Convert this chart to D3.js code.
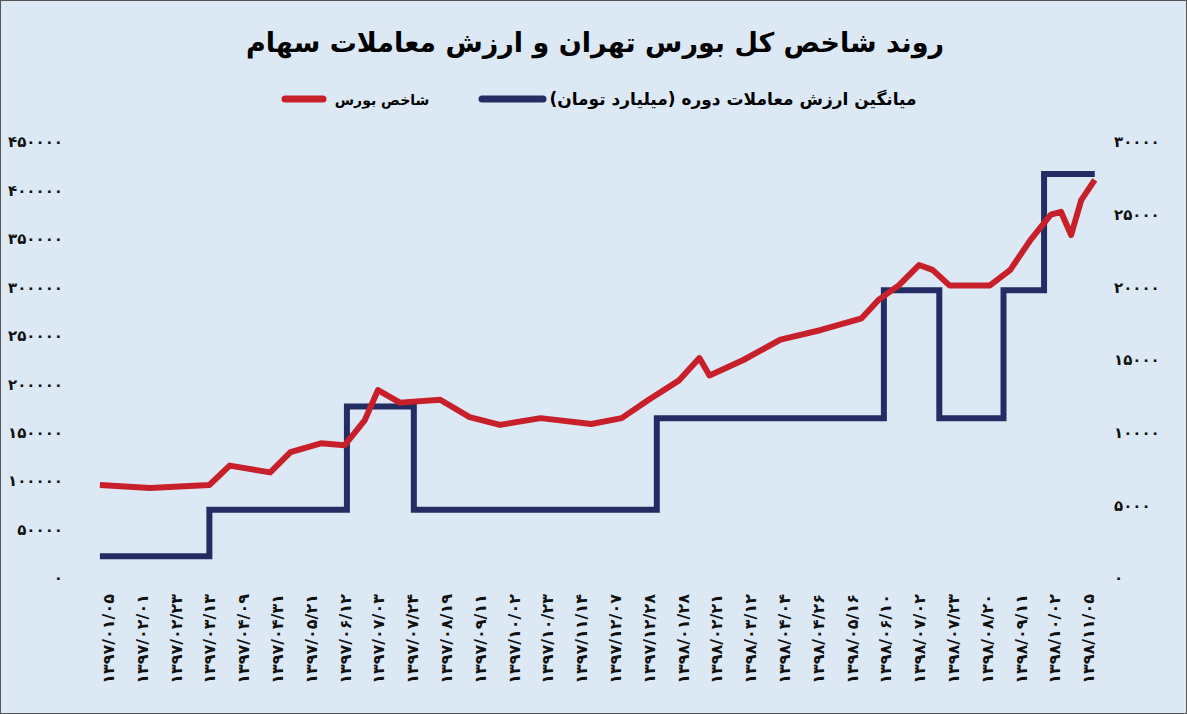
<!DOCTYPE html>
<html><head><meta charset="utf-8">
<script src="https://cdn.jsdelivr.net/npm/d3@7"></script>
<style>body{margin:0;background:#fff}</style></head>
<body><svg id="c" width="1187" height="714"></svg>
<script>
const dates = ['1397/01/05','1397/02/01','1397/02/23','1397/03/13','1397/04/09','1397/04/31','1397/05/21','1397/06/12','1397/07/03','1397/07/24','1397/08/19','1397/09/11','1397/10/02','1397/10/23','1397/11/14','1397/12/07','1397/12/28','1398/01/28','1398/02/21','1398/03/12','1398/04/04','1398/04/26','1398/05/16','1398/06/10','1398/07/02','1398/07/23','1398/08/20','1398/09/11','1398/10/02','1398/11/05'];
// index series (position in category units)
const indexPos = [-0.24,1.24,3.0,3.6,4.8,5.4,6.3,7.0,7.6,7.99,8.64,9.83,10.7,11.6,12.8,14.3,15.2,16.0,16.9,17.5,17.8,18.8,19.9,21.1,22.3,22.8,23.4,24.0,24.4,24.9,26.1,26.7,27.3,27.9,28.2,28.5,28.8,29.2];
const indexVal = [96000,93000,96000,116000,109000,130000,139000,137000,163000,194000,181000,184000,166000,158000,165000,159000,165000,184000,204000,227000,209000,225000,246000,256000,268000,287000,302000,323000,318000,302000,302000,318000,349000,375000,378000,354000,390000,411000];
// average trading value (billion toman), step segments
const stepStart = [-0.24,3.0,7.07,9.05,16.24,22.96,24.6,26.5,27.7];
const stepEnd   = [3.0,7.07,9.05,16.24,22.96,24.6,26.5,27.7,29.2];
const stepVal   = [1500,4700,11800,4700,11000,19800,11000,19800,27800];
const leftTicks = [0,50000,100000,150000,200000,250000,300000,350000,400000,450000];
const rightTicks = [0,5000,10000,15000,20000,25000,30000];

const fa = s => String(s).replace(/\d/g, d => '۰۱۲۳۴۵۶۷۸۹'[d]);
const svg = d3.select('#c');
svg.append('rect').attr('x',0.5).attr('y',0.5).attr('width',1186).attr('height',713)
  .attr('fill','#dce9f5').attr('stroke','#555');

const x = d3.scaleLinear().domain([0, dates.length-1]).range([108, 1088]);
const yL = d3.scaleLinear().domain([0,450000]).range([578,142]);
const yR = d3.scaleLinear().domain([0,30000]).range([578,142]);

svg.append('text').attr('x',595).attr('y',52).attr('text-anchor','middle')
  .attr('font-family','DejaVu Sans').attr('font-weight','bold').attr('font-size',27)
  .text('روند شاخص کل بورس تهران و ارزش معاملات سهام');

// legend
const lg = svg.append('g').attr('font-family','DejaVu Sans').attr('font-weight','bold').attr('font-size',17);
lg.append('line').attr('x1',285).attr('x2',323).attr('y1',99).attr('y2',99).attr('stroke','#c8202a').attr('stroke-width',7).attr('stroke-linecap','round');
lg.append('text').attr('x',382).attr('y',105).attr('text-anchor','middle').attr('font-size',14).text('شاخص بورس');
lg.append('line').attr('x1',482).attr('x2',543).attr('y1',99).attr('y2',99).attr('stroke','#232d63').attr('stroke-width',7).attr('stroke-linecap','round');
lg.append('text').attr('x',733).attr('y',105).attr('text-anchor','middle').text('میانگین ارزش معاملات دوره (میلیارد تومان)');

// axes
const ax = g => g.call(s => s.select('.domain').remove()).call(s => s.selectAll('line').remove())
  .selectAll('text').attr('font-family','DejaVu Sans').attr('font-weight','bold').attr('font-size',15).attr('fill','#111');
svg.append('g').attr('transform','translate(72,0)')
  .call(d3.axisLeft(yL).tickValues(leftTicks).tickFormat(fa)).call(ax);
svg.append('g').attr('transform','translate(1105,0)')
  .call(d3.axisRight(yR).tickValues(rightTicks).tickFormat(fa)).call(ax);

const xa = svg.append('g').attr('transform','translate(0,590)')
  .call(d3.axisBottom(x).tickValues(d3.range(dates.length)).tickFormat(i => fa(dates[i])));
xa.select('.domain').remove(); xa.selectAll('line').remove();
xa.selectAll('text').attr('font-family','DejaVu Sans').attr('font-weight','bold').attr('font-size',16).attr('fill','#111')
  .attr('transform','rotate(-90)').attr('text-anchor','end').attr('x',-4).attr('y',0).attr('dy','0.35em').style('direction','ltr');

// blue step line
const stepPts = [];
stepVal.forEach((v,i) => { stepPts.push([stepStart[i],v]); stepPts.push([stepEnd[i],v]); });
svg.append('path').datum(stepPts).attr('fill','none').attr('stroke','#232d63').attr('stroke-width',6)
  .attr('d', d3.line().x(d => x(d[0])).y(d => yR(d[1])));

// red index line
svg.append('path').datum(indexPos.map((p,i) => [p, indexVal[i]])).attr('fill','none')
  .attr('stroke','#c8202a').attr('stroke-width',6).attr('stroke-linejoin','round')
  .attr('d', d3.line().x(d => x(d[0])).y(d => yL(d[1])));
</script></body></html>
